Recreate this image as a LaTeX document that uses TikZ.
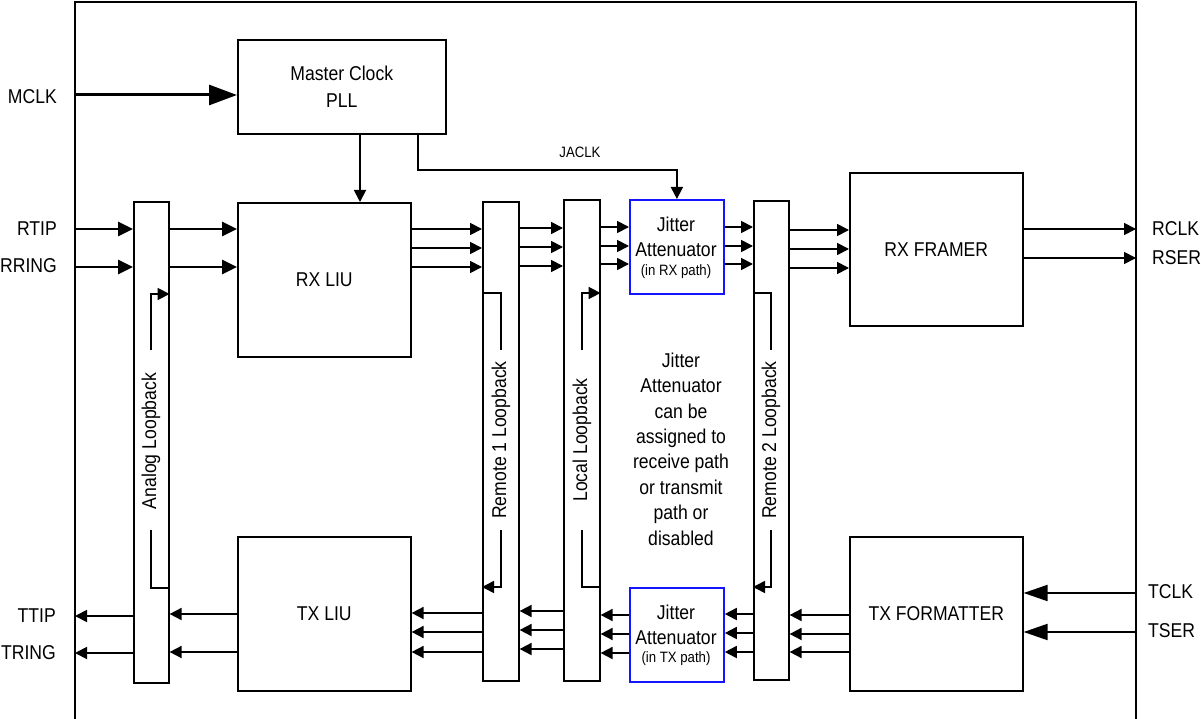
\documentclass[tikz,border=0pt]{standalone}
\usepackage{fontspec}
\setmainfont{Liberation Sans}[FakeStretch=0.88]
\usetikzlibrary{arrows.meta}
\definecolor{jblue}{RGB}{20,20,255}
\begin{document}
\begin{tikzpicture}[x=1pt,y=-1pt,
  blk/.style={draw, line width=1.6pt, inner sep=0pt, anchor=north west, font=\fontsize{20}{27}\selectfont},
  jblk/.style={draw, color=jblue, line width=1.8pt, inner sep=0pt, anchor=north west},
  tx20/.style={font=\fontsize{20}{25.4}\selectfont, inner sep=0pt},
  tx15/.style={font=\fontsize{15}{18}\selectfont, inner sep=0pt},
  arr/.style={line width=1.8pt, -{Triangle[length=12pt,width=12pt]}},
  arrw/.style={line width=2.7pt, -{Triangle[length=15pt,width=14pt]}},
  arrbig/.style={line width=3pt, -{Triangle[length=28pt,width=20pt]}},
  arrin/.style={line width=2pt, -{Triangle[length=24pt,width=16pt]}},
  lpline/.style={line width=1.6pt},
]
\useasboundingbox (0,0) rectangle (1201,719);

% frame
\coordinate (frameL) at (75,360);
\coordinate (frameR) at (1136,360);
\draw[line width=1.6pt] (75,719) -- (75,2) -- (1136,2) -- (1136,719);

% blocks
\node[blk, minimum width=208pt, minimum height=94pt, align=center] (pll) at (237,39) {Master Clock\\PLL};
\node[blk, minimum width=173pt, minimum height=154pt] (rxliu) at (237,202) {RX LIU};
\node[blk, minimum width=173pt, minimum height=154pt] (txliu) at (237,536) {TX LIU};
\node[blk, minimum width=173pt, minimum height=153pt] (rxfr) at (849,172) {RX FRAMER};
\node[blk, minimum width=173pt, minimum height=154pt] (txfm) at (849,536) {TX FORMATTER};

% loopback bars
\node[blk, minimum width=35pt, minimum height=481pt] (ana) at (133,201) {};
\node[blk, minimum width=36pt, minimum height=479pt] (rem1) at (482,201) {};
\node[blk, minimum width=36pt, minimum height=481pt] (loc) at (563,199) {};
\node[blk, minimum width=35pt, minimum height=479pt] (rem2) at (753,200) {};

\node[tx20, rotate=90] (analbl) at (151,441) {Analog Loopback};
\node[tx20, rotate=90] (rem1lbl) at (501,440) {Remote 1 Loopback};
\node[tx20, rotate=90] (loclbl) at (582,440) {Local Loopback};
\node[tx20, rotate=90] (rem2lbl) at (771,440) {Remote 2 Loopback};

% jitter attenuators
\node[jblk, minimum width=94pt, minimum height=94pt] (jrx) at (629,199) {};
\node[jblk, minimum width=94pt, minimum height=94pt] (jtx) at (629,587) {};
\node[tx20] (jrx1) at (676,224) {Jitter};
\node[tx20] (jrx2) at (676,250) {Attenuator};
\node[tx15] (jrx3) at (676,272) {(in RX path)};
\node[tx20] (jtx1) at (676,612) {Jitter};
\node[tx20] (jtx2) at (676,638) {Attenuator};
\node[tx15] (jtx3) at (676,659) {(in TX path)};

\node[tx20, align=center] (note) at (681,449) {Jitter\\Attenuator\\can be\\assigned to\\receive path\\or transmit\\path or\\disabled};

% pin labels
\node[tx20, anchor=east] (mclk) at (57,97) {MCLK};
\node[tx20, anchor=east] (rtip) at (57,229) {RTIP};
\node[tx20, anchor=east] (rring) at (57,266) {RRING};
\node[tx20, anchor=east] (ttip) at (56,616) {TTIP};
\node[tx20, anchor=east] (tring) at (56,653) {TRING};
\node[tx20, anchor=west] (rclk) at (1152,229) {RCLK};
\node[tx20, anchor=west] (rser) at (1152,258) {RSER};
\node[tx20, anchor=west] (tclk) at (1148,592) {TCLK};
\node[tx20, anchor=west] (tser) at (1148,631) {TSER};
\node[tx15] (jaclk) at (580,152) {JACLK};

% clock
\draw[arrbig] (frameL |- 0,95) -- (pll.west |- 0,95);
\draw[arr] (pll.south -| 360,0) -- (rxliu.north -| 360,0);
\draw[arr] (pll.south -| 418,0) -- (418,170) -| (jrx.north);

% receive inputs
\draw[arrw] (frameL |- 0,229) -- (ana.west |- 0,229);
\draw[arrw] (frameL |- 0,267) -- (ana.west |- 0,267);
\draw[arrw] (ana.east |- 0,229) -- (rxliu.west |- 0,229);
\draw[arrw] (ana.east |- 0,267) -- (rxliu.west |- 0,267);

% receive path
\foreach \y in {229,248,267} \draw[arr] (rxliu.east |- 0,\y) -- (rem1.west |- 0,\y);
\foreach \y in {228,247,266} \draw[arr] (rem1.east |- 0,\y) -- (loc.west |- 0,\y);
\foreach \y in {227,246,264} \draw[arr] (loc.east |- 0,\y) -- (jrx.west |- 0,\y);
\foreach \y in {227,246,264} \draw[arr] (jrx.east |- 0,\y) -- (rem2.west |- 0,\y);
\foreach \y in {230,249,268} \draw[arr] (rem2.east |- 0,\y) -- (rxfr.west |- 0,\y);
\draw[arr] (rxfr.east |- 0,229) -- (frameR |- 0,229);
\draw[arr] (rxfr.east |- 0,258) -- (frameR |- 0,258);

% transmit inputs
\draw[arrin] (frameR |- 0,593) -- (txfm.east |- 0,593);
\draw[arrin] (frameR |- 0,632) -- (txfm.east |- 0,632);

% transmit path
\foreach \y in {615,634,652} \draw[arr] (txfm.west |- 0,\y) -- (rem2.east |- 0,\y);
\foreach \y in {614,633,652} \draw[arr] (rem2.west |- 0,\y) -- (jtx.east |- 0,\y);
\foreach \y in {615,634,653} \draw[arr] (jtx.west |- 0,\y) -- (loc.east |- 0,\y);
\foreach \y in {611,630,649} \draw[arr] (loc.west |- 0,\y) -- (rem1.east |- 0,\y);
\foreach \y in {613,632,652} \draw[arr] (rem1.west |- 0,\y) -- (txliu.east |- 0,\y);
\draw[arr] (txliu.west |- 0,614) -- (ana.east |- 0,614);
\draw[arr] (txliu.west |- 0,652) -- (ana.east |- 0,652);
\draw[arr] (ana.west |- 0,616) -- (frameL |- 0,616);
\draw[arr] (ana.west |- 0,653) -- (frameL |- 0,653);

% loopback paths
\coordinate (anaT) at (151,350); \coordinate (anaB) at (151,530);
\coordinate (r1T) at (501,350);  \coordinate (r1B) at (501,530);
\coordinate (locT) at (582,350); \coordinate (locB) at (582,530);
\coordinate (r2T) at (771,350);  \coordinate (r2B) at (771,530);

\draw[arr, line width=1.6pt] (anaT) |- (ana.east |- 0,294);
\draw[lpline] (anaB) |- (ana.east |- 0,588);
\draw[lpline] (rem1.west |- 0,293) -| (r1T);
\draw[arr, line width=1.6pt] (r1B) |- (rem1.west |- 0,587);
\draw[arr, line width=1.6pt] (locT) |- (loc.east |- 0,293);
\draw[lpline] (locB) |- (loc.east |- 0,587);
\draw[lpline] (rem2.west |- 0,293) -| (r2T);
\draw[arr, line width=1.6pt] (r2B) |- (rem2.west |- 0,587);
\end{tikzpicture}
\end{document}
